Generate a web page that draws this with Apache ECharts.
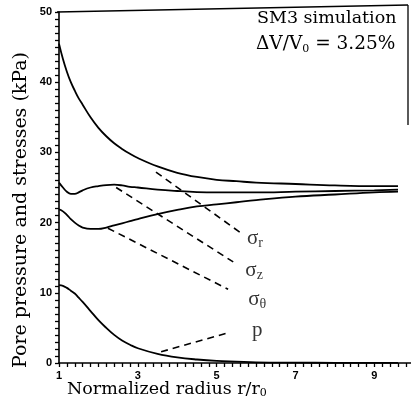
<!DOCTYPE html>
<html><head><meta charset="utf-8">
<script src="https://cdn.jsdelivr.net/npm/echarts@6/dist/echarts.min.js"></script>
<style>html,body{margin:0;padding:0;background:#fff}#c{width:411px;height:408px}</style>
</head><body><div id="c"></div>
<script>
const radius   = [1, 1.1, 1.2, 1.3, 1.4, 1.5, 1.6, 1.8, 2.0, 2.2, 2.4, 2.6, 2.8, 3.0, 3.5, 4.0, 4.5, 5.0, 5.5, 6.0, 7.0, 8.0, 9.0, 9.6];
const sigmaR   = [45.5, 43.3, 41.5, 40.0, 38.8, 37.7, 36.8, 35.0, 33.5, 32.3, 31.3, 30.5, 29.8, 29.2, 28.0, 27.1, 26.5, 26.1, 25.9, 25.7, 25.5, 25.3, 25.2, 25.2];
const sigmaZ   = [25.7, 25.0, 24.4, 24.1, 24.1, 24.3, 24.6, 25.0, 25.2, 25.35, 25.4, 25.3, 25.1, 25.0, 24.7, 24.5, 24.35, 24.3, 24.3, 24.3, 24.4, 24.5, 24.6, 24.7];
const sigmaT   = [21.9, 21.6, 21.1, 20.5, 20.0, 19.6, 19.3, 19.1, 19.1, 19.3, 19.6, 19.9, 20.2, 20.5, 21.2, 21.8, 22.3, 22.6, 22.9, 23.2, 23.7, 24.0, 24.3, 24.4];
const porePress= [11.1, 11.0, 10.7, 10.3, 9.9, 9.3, 8.7, 7.4, 6.1, 5.0, 4.0, 3.2, 2.6, 2.1, 1.3, 0.8, 0.5, 0.3, 0.2, 0.1, 0.05, 0.03, 0.02, 0.02];

const xTickLabels = [1, 3, 5, 7, 9];
const yTickLabels = [0, 10, 20, 30, 40, 50];

// leader lines: [start, end] in data units
const leaderR = [[3.46, 27.2], [5.62, 18.5]];
const leaderZ = [[2.45, 25.0], [5.42, 14.4]];
const leaderT = [[2.24, 19.2], [5.29, 10.5]];
const leaderP = [[3.59, 1.6], [5.29, 4.3]];
// curve label anchors
const labelNames = ['r', 'z', 'θ', 'p'];
const labelPos = [[5.97, 17.8], [5.95, 13.2], [6.03, 9.1], [6.03, 4.7]];

const zip = (xs, ys) => xs.map((x, i) => [x, ys[i]]);
const serif = 'Liberation Serif';
const wide = 'DejaVu Serif';
const solid = (name, vals) => ({
  name, type: 'line', data: zip(radius, vals), smooth: 0.4, symbol: 'none',
  lineStyle: { color: '#000', width: 1.8 }, silent: true, z: 3
});
const dashed = (name, d) => ({
  name, type: 'line', data: d, symbol: 'none',
  lineStyle: { color: '#000', width: 1.6, type: [7, 5] }, silent: true, z: 3
});

const chart = echarts.init(document.getElementById('c'), null, { renderer: 'canvas' });
chart.setOption({
  animation: false,
  backgroundColor: '#fff',
  grid: { left: 59, right: 0, top: 12, bottom: 45 },
  xAxis: {
    type: 'value', min: 1, max: 9.93, interval: 0.2,
    axisLine: { show: true, onZero: false, lineStyle: { color: '#000', width: 1.6 } },
    axisTick: { show: true, length: 4, lineStyle: { color: '#000', width: 1.3 } },
    splitLine: { show: false },
    axisLabel: {
      margin: 7, color: '#000', fontFamily: 'Liberation Sans', fontWeight: 'bold', fontSize: 11,
      showMaxLabel: false,
      formatter: v => { const r = Math.round(v * 10) / 10; return xTickLabels.includes(r) ? String(r) : ''; }
    }
  },
  yAxis: {
    type: 'value', min: 0, max: 50, interval: 1,
    axisLine: { show: true, lineStyle: { color: '#000', width: 1.6 } },
    axisTick: { show: true, length: 4, lineStyle: { color: '#000', width: 1.3 } },
    splitLine: { show: false },
    axisLabel: {
      margin: 7, color: '#000', fontFamily: 'Liberation Sans', fontWeight: 'bold', fontSize: 11,
      formatter: v => { const r = Math.round(v); return yTickLabels.includes(r) && Math.abs(v - r) < 1e-6 ? String(r) : ''; }
    }
  },
  series: [
    solid('σr', sigmaR), solid('σz', sigmaZ), solid('σθ', sigmaT), solid('p', porePress),
    dashed('leadR', leaderR), dashed('leadZ', leaderZ), dashed('leadT', leaderT), dashed('leadP', leaderP),
    {
      type: 'scatter', symbolSize: 0, silent: true, z: 4,
      data: labelPos.map((p, i) => ({ value: p, name: labelNames[i] })),
      label: {
        show: true, position: 'inside',
        formatter: p => p.name === 'p' ? '{b|p}' : '{a|σ}{s|' + p.name + '}',
        rich: {
          a: { fontFamily: serif, fontSize: 21, color: '#000' },
          b: { fontFamily: serif, fontSize: 21, color: '#000' },
          s: { fontFamily: serif, fontSize: 14, color: '#000', padding: [10, 0, 0, 0] }
        }
      }
    }
  ],
  graphic: [
    { type: 'line', shape: { x1: 57, y1: 12, x2: 408, y2: 5 }, style: { stroke: '#000', lineWidth: 1.6 } },
    { type: 'line', shape: { x1: 408, y1: 5, x2: 408, y2: 125 }, style: { stroke: '#000', lineWidth: 1.3 } },
    { type: 'text', left: 257, top: 9, style: { text: 'SM3 simulation', fontFamily: wide, fontSize: 17.5, fill: '#000' } },
    { type: 'text', left: 256, top: 35, style: {
        text: '{a|ΔV/V}{s|0}{a| = 3.25%}', fill: '#000',
        rich: { a: { fontFamily: wide, fontSize: 18.5, fill: '#000' }, s: { fontFamily: wide, fontSize: 11, fill: '#000', padding: [9, 0, 0, 0] } }
    } },
    { type: 'text', left: 67, top: 380, style: {
        text: '{a|Normalized radius r/r}{s|0}', fill: '#000',
        rich: { a: { fontFamily: wide, fontSize: 17.5, fill: '#000' }, s: { fontFamily: wide, fontSize: 11, fill: '#000', padding: [9, 0, 0, 0] } }
    } },
    { type: 'text', x: 21, y: 210, rotation: Math.PI / 2, style: {
        text: 'Pore pressure and stresses (kPa)', fontFamily: wide, fontSize: 19, fill: '#000',
        align: 'center', verticalAlign: 'middle'
    } }
  ]
});
</script></body></html>
